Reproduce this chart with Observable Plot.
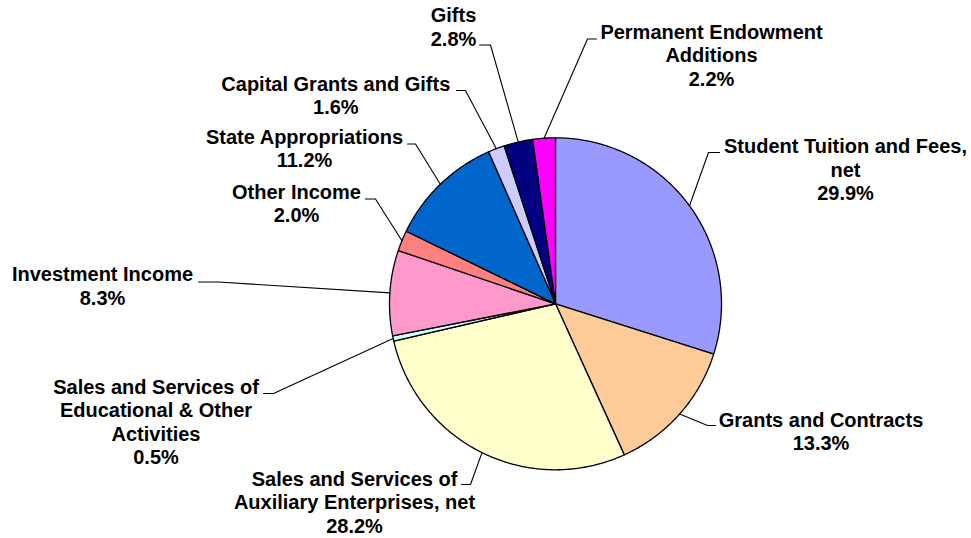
<!DOCTYPE html>
<html>
<head>
<meta charset="utf-8">
<script src="https://cdn.jsdelivr.net/npm/d3@7"></script>
<script src="https://cdn.jsdelivr.net/npm/@observablehq/plot@0.6"></script>
<style>
  html, body { margin: 0; padding: 0; background: #ffffff; }
  #chart svg { display: block; }
</style>
</head>
<body>
<div id="chart"></div>
<script>
// ---- data ----
const categories = [
  "Student Tuition and Fees, net",
  "Grants and Contracts",
  "Sales and Services of Auxiliary Enterprises, net",
  "Sales and Services of Educational & Other Activities",
  "Investment Income",
  "Other Income",
  "State Appropriations",
  "Capital Grants and Gifts",
  "Gifts",
  "Permanent Endowment Additions"
];
const labelLines = [
  ["Student Tuition and Fees,", "net"],
  ["Grants and Contracts"],
  ["Sales and Services of", "Auxiliary Enterprises, net"],
  ["Sales and Services of", "Educational & Other", "Activities"],
  ["Investment Income"],
  ["Other Income"],
  ["State Appropriations"],
  ["Capital Grants and Gifts"],
  ["Gifts"],
  ["Permanent Endowment", "Additions"]
];
const values = [29.9, 13.3, 28.2, 0.5, 8.3, 2.0, 11.2, 1.6, 2.8, 2.2];

// ---- styles ----
const colors = ["#9999FF", "#FFCC99", "#FFFFCC", "#CCFFFF", "#FF99CC",
                "#FF8080", "#0066CC", "#CCCCFF", "#000080", "#FF00FF"];

// ---- layout (pixels) ----
const pieCenter = [555, 303.3];
const pieRadius = 166;
const labelCenterX = [845, 820.5, 354, 155.5, 102, 296, 304, 335.3, 453, 711];
const labelFirstBaseline = [152.7, 426, 485, 393.3, 280.7, 198.3, 143.3, 90, 21.7, 38.3];
const elbowX = [708, 707, 470, 273, 218, 375, 415, 465, 490, 587];
const elbowY = [152, 425, 484, 393, 281.5, 198.5, 143.5, 90, 44.5, 38.5];
const endX   = [719, 715, 461, 263, 198, 365, 407, 456, 479, 596];
const lineStep = 23.5;

// ---- geometry ----
const total = d3.sum(values);
const [cx, cy] = pieCenter;
const pt = (a, r) => ({x: cx + r * Math.sin(a), y: cy - r * Math.cos(a)});
let cum = 0;
const slices = values.map((v, i) => {
  const a0 = cum / total * 2 * Math.PI;
  cum += v;
  const a1 = cum / total * 2 * Math.PI;
  const n = Math.max(2, Math.ceil((a1 - a0) / (Math.PI / 360)));
  const pts = [{x: cx, y: cy}];
  for (let k = 0; k <= n; k++) pts.push(pt(a0 + (a1 - a0) * k / n, pieRadius));
  pts.push({x: cx, y: cy});
  return {i, a0, a1, mid: (a0 + a1) / 2, pts};
});

const leaders = [];
slices.forEach((s, i) => {
  const p = pt(s.mid, pieRadius);
  leaders.push({name: categories[i], x: p.x, y: p.y});
  leaders.push({name: categories[i], x: elbowX[i], y: elbowY[i]});
  leaders.push({name: categories[i], x: endX[i], y: elbowY[i]});
});

const textRows = [];
categories.forEach((c, i) => {
  const lines = [...labelLines[i], values[i].toFixed(1) + "%"];
  lines.forEach((t, j) => {
    textRows.push({text: t, x: labelCenterX[i], y: labelFirstBaseline[i] + j * lineStep});
  });
});

const marks = slices.map(s =>
  Plot.line(s.pts, {x: "x", y: "y", fill: colors[s.i], stroke: "#000000",
                    strokeWidth: 1.3, strokeLinejoin: "round", curve: "linear"})
);
marks.push(Plot.line(leaders, {x: "x", y: "y", z: "name", stroke: "#000000", strokeWidth: 1.1}));
marks.push(Plot.text(textRows, {
  x: "x", y: "y", text: "text", textAnchor: "middle", lineAnchor: "bottom",
  fontSize: 20, fontWeight: "bold", fill: "#000000",
  fontFamily: "'Liberation Sans', Arial, sans-serif"
}));

const chart = Plot.plot({
  width: 971,
  height: 538,
  margin: 0,
  style: {background: "#ffffff", fontFamily: "'Liberation Sans', Arial, sans-serif"},
  x: {domain: [0, 971], range: [0, 971], axis: null},
  y: {domain: [0, 538], range: [0, 538], axis: null},
  marks
});
document.getElementById("chart").appendChild(chart);
</script>
</body>
</html>
